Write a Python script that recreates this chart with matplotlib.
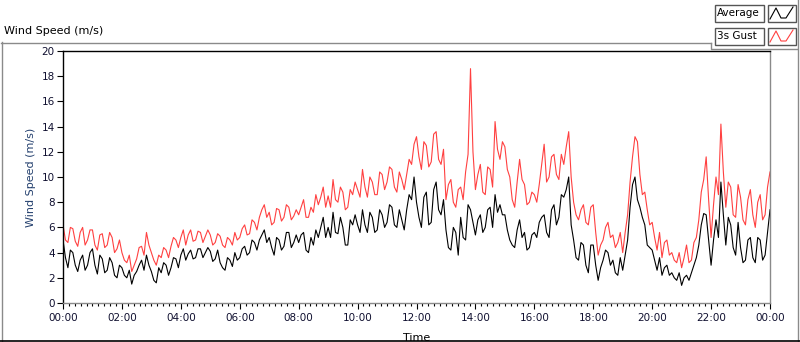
import matplotlib
matplotlib.use("Agg")
import matplotlib.pyplot as plt
from matplotlib.patches import Rectangle
from matplotlib.ticker import MultipleLocator, FuncFormatter

# readings every 5 minutes, 00:00 .. 24:00 (one row per hour)
minutes = list(range(0, 1441, 5))
hours = [m / 60 for m in minutes]

gust = [
    6.2, 5.0, 4.8, 6.0, 5.9, 4.9, 4.5, 5.6, 6.0, 4.6, 5.0, 5.8,
    5.8, 4.6, 4.2, 5.4, 5.5, 4.4, 4.6, 5.6, 5.2, 4.0, 4.3, 5.0,
    4.0, 3.4, 3.2, 3.8, 2.5, 3.0, 3.5, 4.4, 4.5, 3.8, 5.6, 4.6,
    4.0, 3.4, 3.0, 3.8, 3.6, 4.4, 4.2, 3.6, 4.5, 5.2, 5.0, 4.4,
    5.2, 5.8, 4.6, 5.4, 5.8, 4.9, 5.0, 5.7, 5.6, 4.8, 5.3, 5.8,
    5.4, 4.6, 4.8, 5.5, 5.3, 4.6, 4.4, 5.2, 5.0, 4.6, 5.6, 5.0,
    5.2, 5.9, 6.2, 5.4, 5.5, 6.6, 6.4, 5.8, 6.8, 7.4, 7.8, 6.8,
    7.2, 6.2, 6.4, 7.5, 7.4, 6.5, 6.8, 7.8, 7.6, 6.6, 6.9, 7.4,
    7.0, 7.6, 8.2, 6.8, 6.8, 7.6, 7.2, 8.6, 7.8, 8.4, 9.2, 7.6,
    8.5, 7.6, 9.8, 8.2, 8.0, 9.2, 8.8, 7.4, 7.6, 9.0, 8.6, 9.6,
    9.0, 8.4, 10.6, 9.2, 8.4, 10.0, 9.6, 8.6, 8.6, 10.4, 10.2, 9.0,
    9.6, 10.8, 10.6, 9.2, 8.8, 10.4, 9.8, 9.0, 10.2, 11.4, 11.0, 12.6,
    13.2, 11.6, 10.6, 12.8, 12.5, 10.8, 11.2, 13.4, 13.6, 11.4, 11.0, 12.2,
    8.2, 9.4, 9.8, 8.0, 7.6, 9.0, 9.2, 8.2, 10.4, 11.8, 18.6, 12.0,
    9.0, 10.2, 11.0, 8.8, 8.6, 10.8, 10.6, 9.2, 14.4, 12.2, 11.4, 12.8,
    12.4, 10.6, 10.0, 8.2, 7.6, 9.6, 11.4, 9.8, 9.4, 7.8, 8.0, 8.8,
    8.6, 8.0, 9.4, 11.0, 12.6, 9.6, 10.0, 11.6, 11.8, 10.2, 9.8, 11.8,
    11.0, 12.4, 13.6, 10.0, 8.0, 7.0, 6.6, 7.4, 7.8, 6.4, 6.2, 7.6,
    7.8, 5.6, 3.8, 4.6, 5.0, 6.0, 6.4, 5.2, 5.4, 4.4, 4.8, 5.6,
    4.0, 5.6, 7.0, 9.6, 11.6, 13.2, 12.8, 10.2, 8.6, 8.8, 7.4, 6.2,
    6.4, 5.2, 4.2, 5.6, 3.6, 4.8, 5.0, 3.8, 4.0, 3.4, 3.2, 4.0,
    2.8, 3.6, 4.6, 3.2, 3.4, 4.8, 5.2, 6.6, 8.8, 9.8, 11.6, 8.2,
    5.2, 7.8, 10.0, 8.6, 14.2, 10.4, 7.6, 9.6, 9.2, 7.0, 6.8, 9.4,
    8.4, 6.6, 6.2, 8.2, 9.0, 7.0, 6.0, 8.0, 8.6, 6.6, 7.0, 9.2,
    10.4,
]

average = [
    5.0, 3.6, 2.8, 4.2, 4.0, 3.0, 2.5, 3.4, 3.8, 2.6, 3.0, 4.0,
    4.3, 3.0, 2.3, 3.8, 3.5, 2.4, 2.6, 3.6, 3.2, 2.2, 2.0, 3.0,
    2.8, 2.2, 2.0, 2.6, 1.5, 2.2, 2.5, 3.0, 3.4, 2.6, 3.8, 3.0,
    2.5, 1.8, 1.6, 2.8, 2.4, 3.2, 3.0, 2.2, 2.8, 3.6, 3.5, 2.8,
    3.8, 4.3, 3.4, 3.9, 4.2, 3.5, 3.6, 4.3, 4.3, 3.6, 4.0, 4.4,
    4.1, 3.3, 3.5, 4.2, 3.2, 2.8, 2.6, 3.6, 3.4, 2.9, 4.0, 3.4,
    3.6, 4.3, 4.5, 3.8, 4.0, 5.0, 4.8, 4.2, 5.0, 5.4, 5.8, 4.8,
    5.2, 4.4, 3.8, 5.2, 5.0, 4.2, 4.5, 5.6, 5.6, 4.4, 4.8, 5.4,
    4.8, 5.4, 5.6, 4.2, 4.0, 5.2, 4.6, 5.8, 5.2, 6.0, 6.8, 5.2,
    6.0, 5.2, 7.2, 5.6, 5.5, 6.8, 6.0, 4.6, 4.6, 6.6, 6.2, 7.0,
    6.2, 5.6, 7.4, 6.2, 5.6, 7.2, 6.8, 5.6, 5.8, 7.4, 7.0, 6.0,
    6.4, 7.8, 7.6, 6.2, 6.0, 7.4, 6.6, 5.8, 7.4, 8.6, 8.2, 10.0,
    8.0, 6.8, 6.0, 8.4, 8.8, 6.2, 6.4, 9.0, 9.6, 7.4, 7.0, 8.2,
    5.8, 4.4, 4.2, 6.0, 5.6, 3.8, 6.8, 5.2, 5.0, 7.8, 7.4, 6.4,
    5.4, 6.6, 7.0, 5.6, 6.0, 7.4, 7.6, 6.0, 8.6, 7.2, 7.8, 7.0,
    7.0, 5.8, 5.0, 4.6, 4.4, 5.8, 6.6, 5.2, 5.6, 4.2, 4.4, 5.4,
    5.6, 5.2, 6.4, 6.8, 7.0, 5.6, 5.2, 7.4, 7.8, 6.2, 6.8, 8.6,
    8.4, 9.0, 10.0, 6.2, 5.0, 3.6, 3.4, 4.8, 4.6, 3.0, 2.4, 4.6,
    4.6, 3.0, 1.8, 2.8, 3.4, 4.2, 4.0, 3.0, 3.4, 2.4, 2.2, 3.6,
    2.6, 3.8, 5.0, 7.6, 9.4, 10.0, 8.2, 7.6, 6.8, 6.2, 4.6, 4.4,
    4.2, 3.4, 2.6, 3.6, 2.2, 2.8, 3.0, 2.2, 2.4, 2.0, 1.8, 2.4,
    1.4, 2.0, 2.2, 1.8, 2.4, 3.0, 3.6, 4.6, 6.2, 7.1, 7.0, 5.0,
    3.0, 5.0, 6.6, 5.2, 9.6, 7.0, 4.6, 6.8, 6.2, 4.4, 3.8, 6.4,
    4.4, 3.2, 3.4, 5.0, 5.2, 3.6, 3.2, 5.2, 5.0, 3.4, 3.8, 5.6,
    7.4,
]

W, H = 800, 342
fig = plt.figure(figsize=(W / 100, H / 100), dpi=100, facecolor="white")

# frame / legend drawn in pixel coordinates
bg = fig.add_axes([0, 0, 1, 1], zorder=0)
bg.set_xlim(0, W)
bg.set_ylim(H, 0)
bg.axis("off")
grey = "#8a8a8a"
bg.plot([1, 711], [42.5, 42.5], color=grey, lw=1)
bg.plot([1.5, 1.5], [42, 341], color=grey, lw=1)
bg.plot([797.5, 797.5], [0, 341], color=grey, lw=1)
bg.plot([711, 711, 797], [42.5, 48.5, 48.5], color=grey, lw=1)
bg.plot([0, 800], [341, 341], color="black", lw=1.2)
bg.text(4, 31, "Wind Speed (m/s)", fontsize=8, va="center", ha="left", color="black")

for y0, label, col in [(4, "Average", "black"), (27, "3s Gust", "#ff4040")]:
    bg.add_patch(Rectangle((714.5, y0 + 0.5), 49, 17, fill=False, ec="#555555", lw=1))
    bg.text(717, y0 + 9, label, fontsize=7.5, va="center", ha="left", color="black")
    bg.add_patch(Rectangle((767.5, y0 + 0.5), 28, 17, fill=False, ec="#555555", lw=1))
    bg.plot([770, 776, 781, 786, 793], [y0 + 15, y0 + 4, y0 + 14, y0 + 14, y0 + 3], color=col, lw=0.8)

ax = fig.add_axes([63 / W, 39 / H, 707 / W, 252 / H], zorder=2)
ax.plot(hours, gust, color="#ff4040", lw=0.8)
ax.plot(hours, average, color="black", lw=0.8)

ax.set_xlim(0, 24)
ax.set_ylim(0, 20)
ax.xaxis.set_major_locator(MultipleLocator(2))
ax.xaxis.set_minor_locator(MultipleLocator(0.2))
ax.yaxis.set_major_locator(MultipleLocator(2))
ax.xaxis.set_major_formatter(FuncFormatter(lambda v, p: "%02d:00" % (int(round(v)) % 24)))

tick_col = "#101030"
ax.tick_params(axis="both", which="major", direction="out", length=4, width=0.8,
               labelsize=7.5, labelcolor=tick_col, pad=2)
ax.tick_params(axis="x", which="minor", direction="out", length=2, width=0.8)
ax.tick_params(axis="x", which="major", pad=3)

ax.spines["top"].set_color("black")
ax.spines["left"].set_color("black")
ax.spines["bottom"].set_color(grey)
ax.spines["right"].set_color(grey)
for s in ax.spines.values():
    s.set_linewidth(1)

ax.set_xlabel("Time", fontsize=8, labelpad=1)
ax.xaxis.set_label_coords(0.5, -0.118)
ax.set_ylabel("Wind Speed (m/s)", fontsize=8, color="#24406e", labelpad=4)

fig.savefig("out.png", dpi=100, facecolor="white")
